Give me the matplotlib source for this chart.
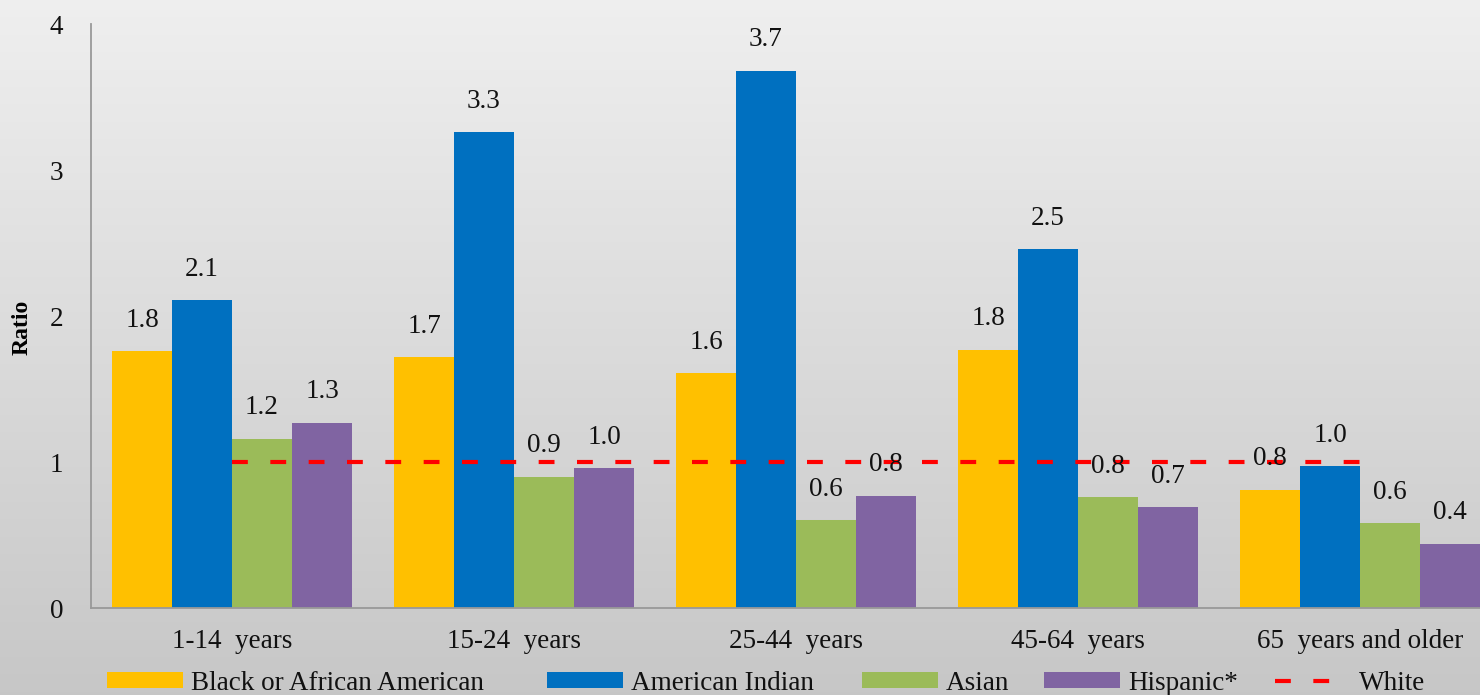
import numpy as np
import matplotlib
matplotlib.use("Agg")
import matplotlib.pyplot as plt
from matplotlib.patches import Patch
from matplotlib.lines import Line2D

# ---------------- data ----------------
categories = ["1-14  years", "15-24  years", "25-44  years", "45-64  years", "65  years and older"]
series_names = ["Black or African American", "American Indian", "Asian", "Hispanic*"]
black = [1.76, 1.72, 1.61, 1.77, 0.81]
american_indian = [2.11, 3.26, 3.68, 2.46, 0.97]
asian = [1.16, 0.90, 0.60, 0.76, 0.58]
hispanic = [1.27, 0.96, 0.77, 0.69, 0.44]
white = [1.0, 1.0, 1.0, 1.0, 1.0]
white_name = "White"
y_ticks = [0, 1, 2, 3, 4]

# ---------------- style ----------------
colors = ["#FFC000", "#0070C0", "#9BBB59", "#8064A2"]
FONT = "Liberation Serif"
plt.rcParams["font.family"] = [FONT, "DejaVu Serif"]
FS = 19.5

W, H = 1480, 695
fig = plt.figure(figsize=(W / 100, H / 100), dpi=100)

# gradient background
bg = fig.add_axes([0, 0, 1, 1], zorder=-10)
grad = np.linspace(0.937, 0.78, 256).reshape(-1, 1)
bg.imshow(np.dstack([grad, grad, grad]), aspect="auto", extent=[0, 1, 0, 1])
bg.axis("off")

ax = fig.add_axes([91 / W, 1 - 608 / H, (W - 91) / W, (608 - 24) / H])
ax.set_facecolor("none")

x = np.arange(len(categories))
bw = 0.2128
all_series = [black, american_indian, asian, hispanic]
for i, (vals, c) in enumerate(zip(all_series, colors)):
    pos = x + (i - 1.5) * bw
    ax.bar(pos, vals, width=bw, color=c, zorder=2)
    for px, v in zip(pos, vals):
        ax.annotate(f"{v:.1f}", (px, v), xytext=(0, 17.5), textcoords="offset points",
                    ha="center", va="baseline", fontsize=FS, color="#111111", zorder=4)

ax.plot(x, white, color="#FF0000", lw=3, linestyle=(0, (3.8, 5.4)),
        dash_capstyle="butt", zorder=3)

ax.set_xlim(-0.5, (W - 232) / 282.0)
ax.set_ylim(0, 4)
ax.set_yticks(y_ticks)
ax.set_yticklabels([str(t) for t in y_ticks])
ax.set_xticks(x)
ax.set_xticklabels(categories)
ax.tick_params(axis="y", length=0, pad=20, labelsize=FS, labelcolor="#111111")
ax.tick_params(axis="x", length=0, pad=15, labelsize=FS, labelcolor="#111111")

for s in ["top", "right"]:
    ax.spines[s].set_visible(False)
for s in ["left", "bottom"]:
    ax.spines[s].set_color("#999999")
    ax.spines[s].set_linewidth(1.3)

ax.set_ylabel("Ratio", fontsize=17, fontweight="bold", va="center")
ax.yaxis.set_label_coords((22 - 91) / (W - 91), (608 - 327) / (608 - 24))

# legend: one entry each, placed along the bottom
handles = [Patch(facecolor=c, edgecolor="none") for c in colors]
handles.append(Line2D([], [], color="#FF0000", lw=3, linestyle=(0, (3.8, 5.4)),
                      dash_capstyle="butt"))
labels = series_names + [white_name]
lx = [107, 547, 862, 1044, 1275]
for h, l, px in zip(handles, labels, lx):
    leg = fig.legend([h], [l], loc="center left", bbox_to_anchor=(px / W, 1 - 683 / H),
                     frameon=False, borderpad=0, borderaxespad=0, handlelength=2.8,
                     handleheight=0.55, handletextpad=0.3, fontsize=FS)
    for t in leg.get_texts():
        t.set_color("#111111")

fig.savefig("out.png", dpi=100)
